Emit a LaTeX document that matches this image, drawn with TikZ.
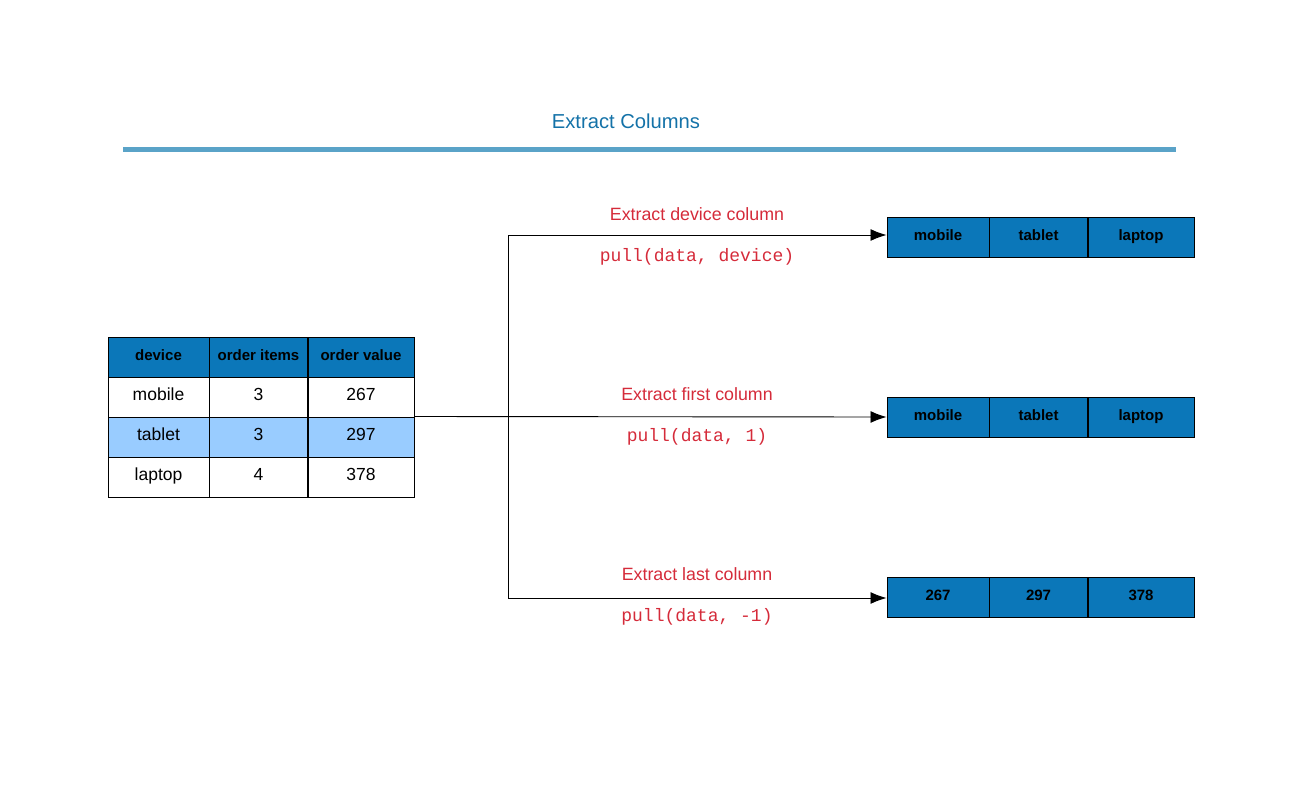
\documentclass[tikz,border=0pt]{standalone}
\usepackage{fontspec}
\setmainfont{Liberation Sans}
\setmonofont{Liberation Mono}
\usetikzlibrary{arrows.meta}
\definecolor{hdr}{HTML}{0B77B9}
\definecolor{hil}{HTML}{99CCFF}
\definecolor{lbl}{HTML}{D52B3A}
\definecolor{ttl}{HTML}{1472A8}
\definecolor{rule}{HTML}{5AA3C8}
\tikzset{
  cell/.style={draw=black, line width=1pt, minimum height=40pt, inner sep=0pt, text height=12.5pt, text depth=5pt, font=\fontsize{17.5}{20}\selectfont},
  hcell/.style={cell, fill=hdr, text height=11pt, text depth=5pt, font=\fontsize{15}{18}\selectfont\bfseries},
  ocell/.style={hcell, minimum height=40pt},
  lab/.style={text=lbl, font=\fontsize{17.8}{20}\selectfont},
  code/.style={text=lbl, font=\fontsize{18}{20}\ttfamily},
  arr/.style={line width=0.9pt, -{Latex[length=16pt,width=12pt]}},
  conn/.style={line width=0.9pt}
}
\begin{document}
\begin{tikzpicture}[x=1pt,y=-1pt]
\useasboundingbox (0,0) rectangle (1300,800);
% title
\node[text=ttl, font=\fontsize{20.2}{24}\selectfont] (title) at (626,121) {Extract Columns};
\draw[rule, line width=5pt] (123,149) -- (1176,149);
% table
\node[hcell, minimum width=101pt] (h1) at (158.5,357) {device};
\node[hcell, minimum width=99pt] (h2) at (258.5,357) {order items};
\node[hcell, minimum width=106pt] (h3) at (361,357) {order value};
\node[cell, minimum width=101pt] (c11) at (158.5,397) {mobile};
\node[cell, minimum width=99pt] (c12) at (258.5,397) {3};
\node[cell, minimum width=106pt] (c13) at (361,397) {267};
\node[cell, fill=hil, minimum width=101pt] (c21) at (158.5,437) {tablet};
\node[cell, fill=hil, minimum width=99pt] (c22) at (258.5,437) {3};
\node[cell, fill=hil, minimum width=106pt] (c23) at (361,437) {297};
\node[cell, minimum width=101pt] (c31) at (158.5,477) {laptop};
\node[cell, minimum width=99pt] (c32) at (258.5,477) {4};
\node[cell, minimum width=106pt] (c33) at (361,477) {378};
\draw[line width=1.8pt] (308,337) -- (308,497);
% outputs
\node[ocell, minimum width=102pt] (a1) at (938,237) {mobile};
\node[ocell, minimum width=99pt] (a2) at (1038.5,237) {tablet};
\node[ocell, minimum width=106pt] (a3) at (1141,237) {laptop};
\node[ocell, minimum width=102pt] (b1) at (938,417) {mobile};
\node[ocell, minimum width=99pt] (b2) at (1038.5,417) {tablet};
\node[ocell, minimum width=106pt] (b3) at (1141,417) {laptop};
\node[ocell, minimum width=102pt] (d1) at (938,597) {267};
\node[ocell, minimum width=99pt] (d2) at (1038.5,597) {297};
\node[ocell, minimum width=106pt] (d3) at (1141,597) {378};
\foreach \y in {217,397,577}{\draw[line width=1.8pt] (1088,\y) -- (1088,\y+40);}
% connectors
\coordinate (jt) at (508,235);
\coordinate (jb) at (508,598);
\draw[conn] (jt) -- (jb);
\draw[arr] (c23.north east) -- (b1.west);
\draw[arr] (jt) -- (jt -| a1.west);
\draw[arr] (jb) -- (jb -| d1.west);
% labels
\node[lab] (l1) at (697,214) {Extract device column};
\node[code] (k1) at (697,257) {pull(data, device)};
\node[lab] (l2) at (697,394) {Extract first column};
\node[code] (k2) at (697,437) {pull(data, 1)};
\node[lab] (l3) at (697,574) {Extract last column};
\node[code] (k3) at (697,617) {pull(data, -1)};
\end{tikzpicture}
\end{document}
